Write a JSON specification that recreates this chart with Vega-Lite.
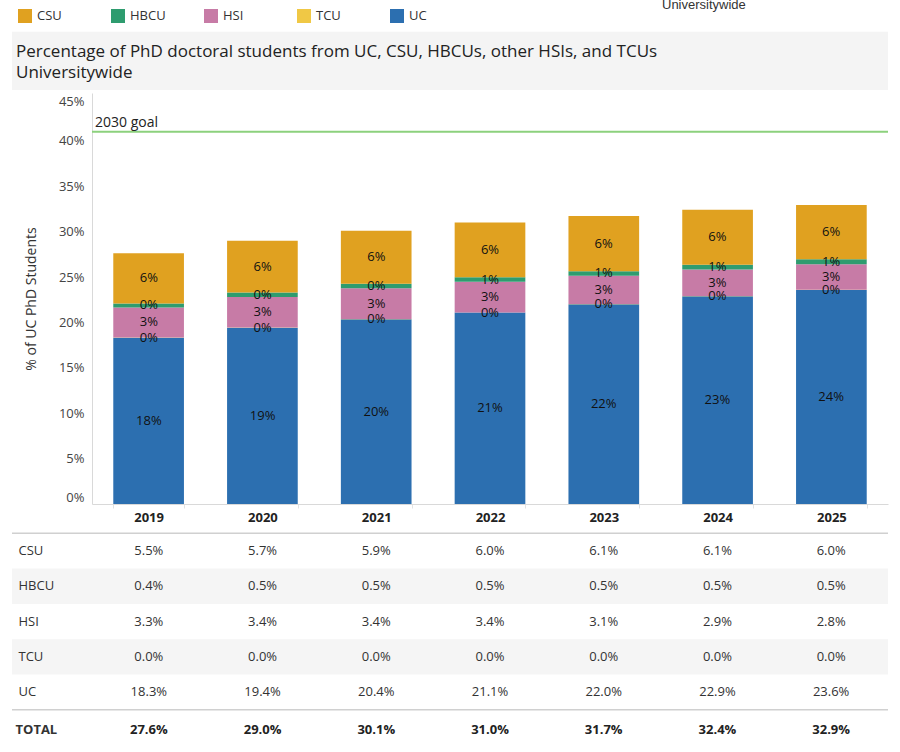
{
  "$schema": "https://vega.github.io/schema/vega-lite/v6.json",
  "width": 876,
  "height": 752,
  "autosize": {"type": "none"},
  "padding": {"left": 12, "right": 12, "top": 0, "bottom": 0},
  "background": "white",
  "config": {"view": {"stroke": null}, "font": "Open Sans"},
  "datasets": {
    "header": [{"part": "title", "text": "Percentage of PhD doctoral students from UC, CSU, HBCUs, other HSIs, and TCUs\nUniversitywide"}],
    "caption": [{"part": "caption", "text": "Universitywide"}],
    "goal": [{"label": "2030 goal", "goal": 0.41}],
    "bands": [{"row": "HBCU"}, {"row": "TCU"}],
    "lines": [{"row": "CSU"}, {"row": "TOTAL"}],
    "totals": [
      {"year": "2019", "row": "TOTAL", "value": 0.276},
      {"year": "2020", "row": "TOTAL", "value": 0.290},
      {"year": "2021", "row": "TOTAL", "value": 0.301},
      {"year": "2022", "row": "TOTAL", "value": 0.310},
      {"year": "2023", "row": "TOTAL", "value": 0.317},
      {"year": "2024", "row": "TOTAL", "value": 0.324},
      {"year": "2025", "row": "TOTAL", "value": 0.329}
    ],
    "main": [
      {"year": "2019", "group": "UC", "value": 0.1832, "ord": 1},
      {"year": "2019", "group": "TCU", "value": 0.0002, "ord": 2},
      {"year": "2019", "group": "HSI", "value": 0.0331, "ord": 3},
      {"year": "2019", "group": "HBCU", "value": 0.0044, "ord": 4},
      {"year": "2019", "group": "CSU", "value": 0.0553, "ord": 5},
      {"year": "2020", "group": "UC", "value": 0.1941, "ord": 1},
      {"year": "2020", "group": "TCU", "value": 0.0002, "ord": 2},
      {"year": "2020", "group": "HSI", "value": 0.0338, "ord": 3},
      {"year": "2020", "group": "HBCU", "value": 0.0048, "ord": 4},
      {"year": "2020", "group": "CSU", "value": 0.0571, "ord": 5},
      {"year": "2021", "group": "UC", "value": 0.2036, "ord": 1},
      {"year": "2021", "group": "TCU", "value": 0.0001, "ord": 2},
      {"year": "2021", "group": "HSI", "value": 0.0339, "ord": 3},
      {"year": "2021", "group": "HBCU", "value": 0.0049, "ord": 4},
      {"year": "2021", "group": "CSU", "value": 0.0586, "ord": 5},
      {"year": "2022", "group": "UC", "value": 0.2108, "ord": 1},
      {"year": "2022", "group": "TCU", "value": 0.0002, "ord": 2},
      {"year": "2022", "group": "HSI", "value": 0.0337, "ord": 3},
      {"year": "2022", "group": "HBCU", "value": 0.0051, "ord": 4},
      {"year": "2022", "group": "CSU", "value": 0.0602, "ord": 5},
      {"year": "2023", "group": "UC", "value": 0.2201, "ord": 1},
      {"year": "2023", "group": "TCU", "value": 0.0002, "ord": 2},
      {"year": "2023", "group": "HSI", "value": 0.0310, "ord": 3},
      {"year": "2023", "group": "HBCU", "value": 0.0052, "ord": 4},
      {"year": "2023", "group": "CSU", "value": 0.0607, "ord": 5},
      {"year": "2024", "group": "UC", "value": 0.2289, "ord": 1},
      {"year": "2024", "group": "TCU", "value": 0.0002, "ord": 2},
      {"year": "2024", "group": "HSI", "value": 0.0291, "ord": 3},
      {"year": "2024", "group": "HBCU", "value": 0.0052, "ord": 4},
      {"year": "2024", "group": "CSU", "value": 0.0608, "ord": 5},
      {"year": "2025", "group": "UC", "value": 0.2358, "ord": 1},
      {"year": "2025", "group": "TCU", "value": 0.0002, "ord": 2},
      {"year": "2025", "group": "HSI", "value": 0.0282, "ord": 3},
      {"year": "2025", "group": "HBCU", "value": 0.0053, "ord": 4},
      {"year": "2025", "group": "CSU", "value": 0.0598, "ord": 5}
    ]
  },
  "layer": [
    {
      "data": {"name": "header"},
      "mark": {"type": "rect", "color": "#f4f4f4"},
      "encoding": {
        "y": {"field": "part", "type": "nominal", "scale": {"range": [31.7, 90], "paddingInner": 0, "paddingOuter": 0}, "axis": null}
      }
    },
    {
      "data": {"name": "header"},
      "mark": {"type": "text", "align": "left", "baseline": "middle", "fontSize": 17, "lineHeight": 21.3, "lineBreak": "\n", "dy": -9, "color": "#222222", "font": "Open Sans"},
      "encoding": {
        "x": {"datum": 0, "type": "quantitative", "scale": {"domain": [0, 1], "range": [4, 876]}, "axis": null},
        "y": {"field": "part", "type": "nominal", "scale": {"range": [31.7, 90], "paddingInner": 0, "paddingOuter": 0}, "axis": null},
        "text": {"field": "text"}
      }
    },
    {
      "data": {"name": "caption"},
      "mark": {"type": "text", "align": "left", "baseline": "alphabetic", "dx": 646, "fontSize": 13, "color": "#333333", "font": "Liberation Sans"},
      "encoding": {
        "x": {"datum": 0, "type": "quantitative", "scale": {"domain": [0, 1], "range": [4, 876]}, "axis": null},
        "y": {"field": "part", "type": "nominal", "scale": {"range": [0, 18.6], "paddingInner": 0, "paddingOuter": 0}, "axis": null},
        "text": {"field": "text"}
      }
    },
    {
      "data": {"name": "bands"},
      "mark": {"type": "rect", "color": "#f5f5f5"},
      "encoding": {
        "y": {"field": "row", "type": "nominal", "scale": {"domain": ["CSU", "HBCU", "HSI", "TCU", "UC", "TOTAL"], "range": [533.3, 745.1], "paddingInner": 0, "paddingOuter": 0},
          "axis": {"orient": "left", "title": null, "domain": false, "ticks": false, "grid": false, "labelAlign": "left", "labelFont": "Open Sans", "labelFontSize": 13, "labelColor": "#333333",
            "labelPadding": {"condition": {"test": "datum.value === 'TOTAL'", "value": -3}, "value": -6},
            "labelFontWeight": {"condition": {"test": "datum.value === 'TOTAL'", "value": "bold"}, "value": "normal"},
            "labelOffset": {"condition": {"test": "datum.value === 'TOTAL'", "value": 3}, "value": 0}}}
      }
    },
    {
      "data": {"name": "lines"},
      "mark": {"type": "rule", "color": "#d0d0d0", "strokeWidth": 1.5},
      "encoding": {
        "y": {"field": "row", "type": "nominal", "bandPosition": 0, "scale": {"domain": ["CSU", "HBCU", "HSI", "TCU", "UC", "TOTAL"], "range": [533.3, 745.1], "paddingInner": 0, "paddingOuter": 0}, "axis": null}
      }
    },
    {
      "data": {"name": "main"},
      "mark": {"type": "bar"},
      "encoding": {
        "x": {"field": "year", "type": "ordinal", "scale": {"range": [80, 876], "paddingInner": 0.379, "paddingOuter": 0.187},
          "axis": {"orient": "bottom", "offset": -248, "title": null, "labelAngle": 0, "labelFont": "Open Sans", "labelFontSize": 13, "labelFontWeight": "bold", "labelColor": "#222222", "labelPadding": 3, "tickBand": "extent", "tickSize": 4, "tickColor": "#e3e3e3", "domainColor": "#d9d9d9", "grid": false}},
        "y": {"field": "value", "type": "quantitative", "stack": "zero", "scale": {"domain": [0, 0.4527], "range": [504, 93], "nice": false},
          "axis": {"orient": "left", "offset": -80, "values": [0, 0.05, 0.1, 0.15, 0.2, 0.25, 0.3, 0.35, 0.4, 0.45], "format": ".0%", "title": "% of UC PhD Students", "titleFont": "Open Sans", "titleFontSize": 14, "titleFontWeight": "normal", "titleColor": "#333333", "titleX": -61, "titleY": 298.5, "titleAngle": -90, "titleBaseline": "middle", "titleAlign": "center", "labelFont": "Open Sans", "labelFontSize": 13, "labelColor": "#444444", "labelPadding": 8, "ticks": false, "domainColor": "#d9d9d9", "grid": false, "labelFlush": 7}},
        "color": {"field": "group", "type": "nominal",
          "scale": {"domain": ["CSU", "HBCU", "HSI", "TCU", "UC"], "range": ["#E0A120", "#2E9C6F", "#C77BA6", "#F0C845", "#2C6FB0"]},
          "legend": {"orient": "none", "legendX": 6, "legendY": 9, "direction": "horizontal", "columns": 5, "title": null, "symbolType": "square", "symbolSize": 196, "symbolStrokeWidth": 0, "symbolOpacity": 1, "labelFont": "Open Sans", "labelFontSize": 13, "labelColor": "#333333", "labelOffset": 5, "columnPadding": 38, "gridAlign": "all", "padding": 0}},
        "order": {"field": "ord", "type": "quantitative"}
      }
    },
    {
      "data": {"name": "main"},
      "mark": {"type": "text", "fontSize": 13, "color": "#111111", "font": "Open Sans"},
      "encoding": {
        "x": {"field": "year", "type": "ordinal", "scale": {"range": [80, 876], "paddingInner": 0.379, "paddingOuter": 0.187}, "axis": null},
        "y": {"field": "value", "type": "quantitative", "stack": "zero", "bandPosition": 0.5, "scale": {"domain": [0, 0.4527], "range": [504, 93], "nice": false}, "axis": null},
        "detail": {"field": "group"},
        "order": {"field": "ord", "type": "quantitative"},
        "text": {"field": "value", "type": "quantitative", "format": ".0%"}
      }
    },
    {
      "data": {"name": "goal"},
      "mark": {"type": "rule", "color": "#8CD17D", "strokeWidth": 2},
      "encoding": {
        "y": {"field": "goal", "type": "quantitative", "scale": {"domain": [0, 0.4527], "range": [504, 93], "nice": false}, "axis": null},
        "x": {"datum": 0, "type": "quantitative", "scale": {"domain": [0, 1], "range": [80, 876]}, "axis": null},
        "x2": {"datum": 1}
      }
    },
    {
      "data": {"name": "goal"},
      "mark": {"type": "text", "align": "left", "baseline": "alphabetic", "dx": 3, "dy": -5, "fontSize": 14, "color": "#222222", "font": "Open Sans"},
      "encoding": {
        "y": {"field": "goal", "type": "quantitative", "scale": {"domain": [0, 0.4527], "range": [504, 93], "nice": false}, "axis": null},
        "x": {"datum": 0, "type": "quantitative", "scale": {"domain": [0, 1], "range": [80, 876]}, "axis": null},
        "text": {"field": "label"}
      }
    },
    {
      "data": {"name": "main"},
      "mark": {"type": "text", "fontSize": 13, "color": "#333333", "font": "Open Sans"},
      "encoding": {
        "x": {"field": "year", "type": "ordinal", "scale": {"range": [80, 876], "paddingInner": 0.379, "paddingOuter": 0.187}, "axis": null},
        "y": {"field": "group", "type": "nominal", "scale": {"domain": ["CSU", "HBCU", "HSI", "TCU", "UC", "TOTAL"], "range": [533.3, 745.1], "paddingInner": 0, "paddingOuter": 0}, "axis": null},
        "text": {"field": "value", "type": "quantitative", "format": ".1%"}
      }
    },
    {
      "data": {"name": "totals"},
      "mark": {"type": "text", "fontSize": 13, "fontWeight": "bold", "dy": 3, "color": "#222222", "font": "Open Sans"},
      "encoding": {
        "x": {"field": "year", "type": "ordinal", "scale": {"range": [80, 876], "paddingInner": 0.379, "paddingOuter": 0.187}, "axis": null},
        "y": {"field": "row", "type": "nominal", "scale": {"domain": ["CSU", "HBCU", "HSI", "TCU", "UC", "TOTAL"], "range": [533.3, 745.1], "paddingInner": 0, "paddingOuter": 0}, "axis": null},
        "text": {"field": "value", "type": "quantitative", "format": ".1%"}
      }
    }
  ],
  "resolve": {"scale": {"x": "independent", "y": "independent"}, "axis": {"x": "independent", "y": "independent"}}
}
